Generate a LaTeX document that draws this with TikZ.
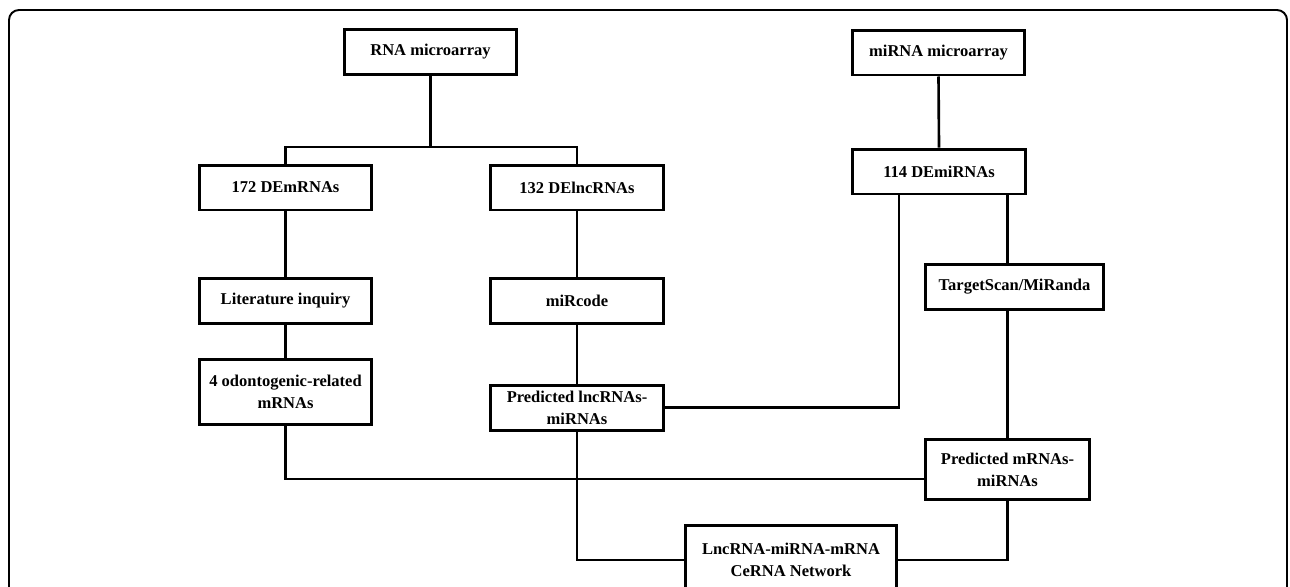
\documentclass[tikz,border=0pt]{standalone}
\usepackage{fontspec}
\setmainfont{Liberation Serif}
\begin{document}
\begin{tikzpicture}[x=0.02cm, y=-0.02cm,
    flowbox/.style={draw, line width=1.7pt, align=center, inner sep=0pt,
        minimum width=3.45cm, minimum height=0.9cm,
        font=\bfseries\fontsize{9.4}{12.5}\selectfont},
    link/.style={line width=1.5pt}]
    \useasboundingbox (0,0) rectangle (1290,586);
    \clip (0,0) rectangle (1290,586);

    % Cadre arrondi
    \draw[line width=1.1pt, rounded corners=0.2cm] (9,10) rectangle (1287,650);

    % Placer les boites
    \node[flowbox] (rna) at (430.5,52) {RNA microarray};
    \node[flowbox] (mirna) at (938.5,52.5) {miRNA microarray};
    \node[flowbox] (demrna) at (285.5,187.5) {172 DEmRNAs};
    \node[flowbox] (delnc) at (577,187.5) {132 DElncRNAs};
    \node[flowbox] (demirna) at (939,171.5) {114 DEmiRNAs};
    \node[flowbox] (lit) at (285.5,300.5) {Literature inquiry};
    \node[flowbox] (mircode) at (577,301) {miRcode};
    \node[flowbox, minimum width=3.57cm] (target) at (1014.5,287) {TargetScan/MiRanda};
    \node[flowbox, minimum height=1.3cm] (odonto) at (285.5,392) {4 odontogenic-related\\mRNAs};
    \node[flowbox] (predlnc) at (577,407.5) {Predicted lncRNAs-\\miRNAs};
    \node[flowbox, minimum width=3.28cm, minimum height=1.2cm] (predm) at (1007.5,469.5) {Predicted mRNAs-\\miRNAs};
    \node[flowbox, minimum width=4.22cm, minimum height=1.38cm] (cerna) at (791,560) {LncRNA-miRNA-mRNA\\CeRNA Network};

    % Relier les boites
    \coordinate (split) at (430.5,147);
    \draw[link] (rna.south) -- (split);
    \draw[link] (demrna.north) |- (split) -| (delnc.north);
    \draw[link] (mirna.south) -- (demirna.north);
    \draw[link] (demrna.south) -- (lit.north);
    \draw[link] (lit.south) -- (odonto.north);
    \draw[link] (delnc.south) -- (mircode.north);
    \draw[link] (mircode.south) -- (predlnc.north);
    \draw[link] (predlnc.east) -| ([xshift=-0.8cm]demirna.south);
    \draw[link] (demirna.south -| predm.north) -- (target.north -| predm.north);
    \draw[link] (target.south -| predm.north) -- (predm.north);
    \draw[link] (odonto.south) |- ([yshift=-0.19cm]predm.west);
    \draw[link] (predlnc.south) |- (cerna.west);
    \draw[link] (cerna.east) -| (predm.south);
\end{tikzpicture}
\end{document}
